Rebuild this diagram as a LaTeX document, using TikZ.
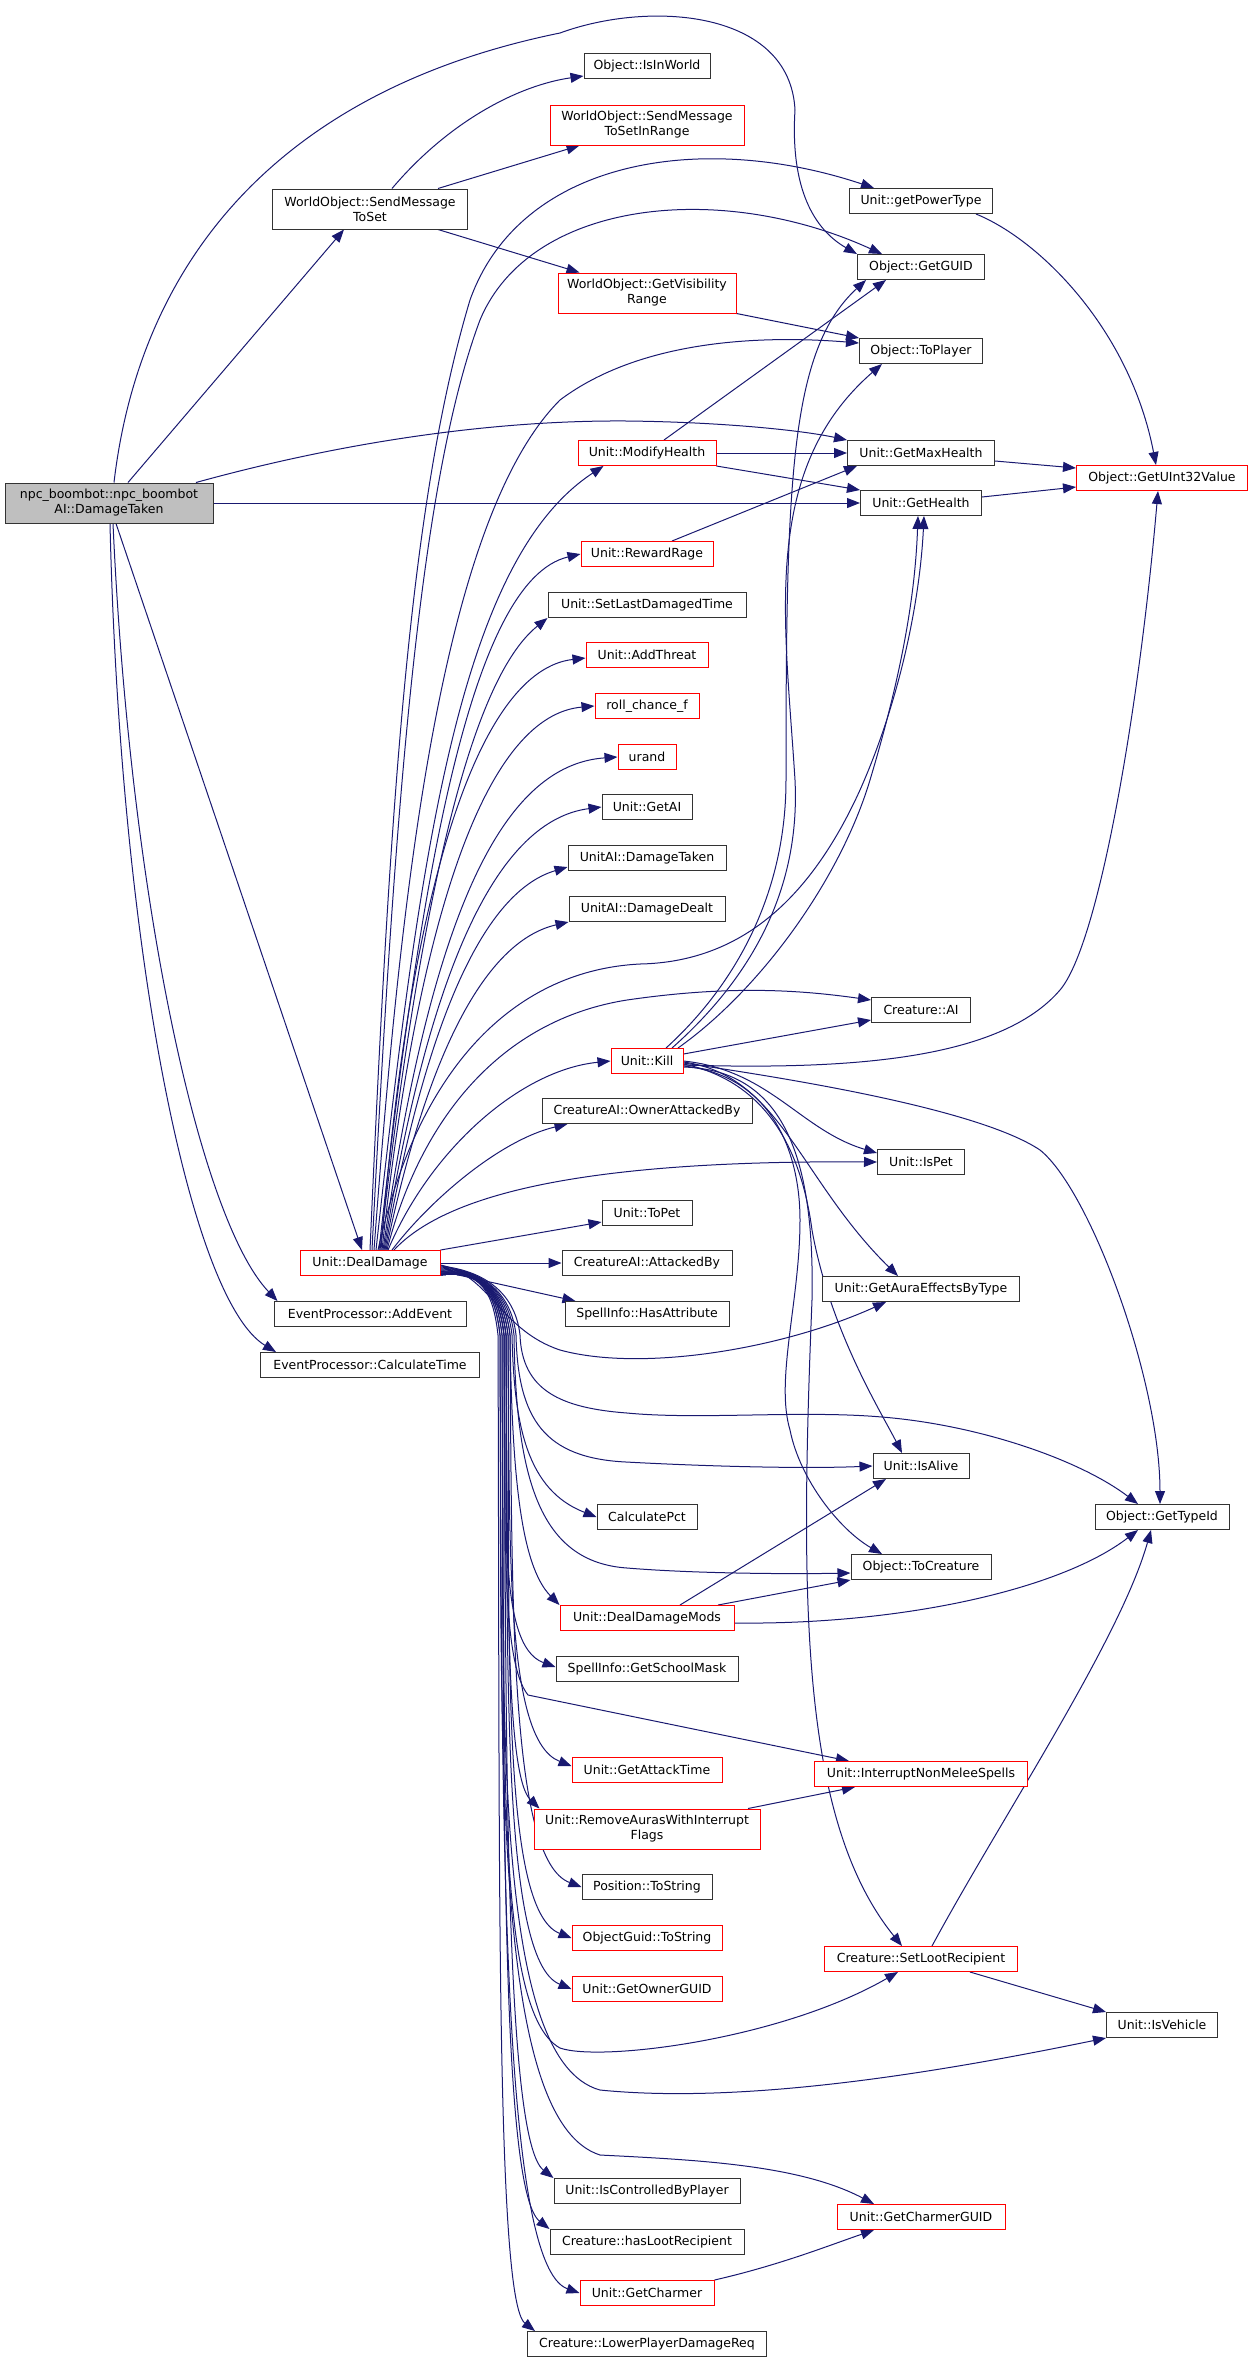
\documentclass[tikz,border=0pt]{standalone}
\usepackage{fontspec}
\setmainfont{DejaVu Sans}
\usetikzlibrary{arrows.meta}
\definecolor{edgec}{RGB}{25,25,112}
\definecolor{redb}{RGB}{255,0,0}
\definecolor{rootfill}{RGB}{191,191,191}
\pgfdeclarelayer{bg}
\pgfsetlayers{bg,main}
\begin{document}
\begin{tikzpicture}[x=1pt,y=-1pt,
  box/.style={draw=black!80, line width=1pt, fill=white, inner sep=0pt, minimum height=25pt,
    font=\fontsize{12.5}{15}\selectfont, align=center, text=black},
  rbox/.style={box, draw=redb},
  e/.style={draw=edgec, line width=1pt, -{Triangle[length=13pt,width=10pt]}}]
\useasboundingbox (0,0) rectangle (1252,2362);
% nodes
\node[box, fill=rootfill, minimum width=208pt, minimum height=40pt] (n0) at (109,503) {npc\_boombot::npc\_boombot\\AI::DamageTaken};
\node[box, minimum width=195pt, minimum height=40pt] (smts) at (370,209) {WorldObject::SendMessage\\ToSet};
\node[box, minimum width=126pt] (iiw) at (647,66) {Object::IsInWorld};
\node[rbox, minimum width=194pt, minimum height=40pt] (smir) at (647,125) {WorldObject::SendMessage\\ToSetInRange};
\node[rbox, minimum width=178pt, minimum height=40pt] (gvr) at (647,293) {WorldObject::GetVisibility\\Range};
\node[box, minimum width=143pt] (gpt) at (921,201) {Unit::getPowerType};
\node[box, minimum width=127pt] (guid) at (921,267) {Object::GetGUID};
\node[box, minimum width=123pt] (tpl) at (921,351) {Object::ToPlayer};
\node[rbox, minimum width=138pt] (mh) at (647,453) {Unit::ModifyHealth};
\node[box, minimum width=147pt] (gmh) at (921,453) {Unit::GetMaxHealth};
\node[box, minimum width=121pt] (gh) at (921,503) {Unit::GetHealth};
\node[rbox, minimum width=171pt] (u32) at (1162,478) {Object::GetUInt32Value};
\node[rbox, minimum width=132pt] (rr) at (647,554) {Unit::RewardRage};
\node[box, minimum width=198pt] (sldt) at (647,605) {Unit::SetLastDamagedTime};
\node[rbox, minimum width=122pt] (at) at (647,655) {Unit::AddThreat};
\node[rbox, minimum width=104pt] (rcf) at (647,706) {roll\_chance\_f};
\node[rbox, minimum width=58pt] (ur) at (647,757) {urand};
\node[box, minimum width=90pt] (gai) at (647,807) {Unit::GetAI};
\node[box, minimum width=158pt] (uadt) at (647,858) {UnitAI::DamageTaken};
\node[box, minimum width=156pt] (uadd) at (647,909) {UnitAI::DamageDealt};
\node[box, minimum width=99pt] (cai) at (921,1010) {Creature::AI};
\node[rbox, minimum width=72pt] (kill) at (647,1061) {Unit::Kill};
\node[box, minimum width=210pt] (oab) at (647,1111) {CreatureAI::OwnerAttackedBy};
\node[box, minimum width=87pt] (ispet) at (921,1162) {Unit::IsPet};
\node[box, minimum width=90pt] (topet) at (647,1213) {Unit::ToPet};
\node[rbox, minimum width=140pt] (dd) at (370,1263) {Unit::DealDamage};
\node[box, minimum width=170pt] (cab) at (647,1263) {CreatureAI::AttackedBy};
\node[box, minimum width=164pt] (ha) at (647,1314) {SpellInfo::HasAttribute};
\node[box, minimum width=192pt] (ae) at (370,1314) {EventProcessor::AddEvent};
\node[box, minimum width=219pt] (ct) at (370,1365) {EventProcessor::CalculateTime};
\node[box, minimum width=197pt] (gaebt) at (921,1289) {Unit::GetAuraEffectsByType};
\node[box, minimum width=96pt] (alive) at (921,1466) {Unit::IsAlive};
\node[box, minimum width=100pt] (cpct) at (647,1517) {CalculatePct};
\node[box, minimum width=134pt] (tid) at (1162,1517) {Object::GetTypeId};
\node[box, minimum width=140pt] (tcr) at (921,1567) {Object::ToCreature};
\node[rbox, minimum width=174pt] (ddm) at (647,1618) {Unit::DealDamageMods};
\node[box, minimum width=182pt] (gsm) at (647,1669) {SpellInfo::GetSchoolMask};
\node[rbox, minimum width=150pt] (gat) at (647,1770) {Unit::GetAttackTime};
\node[rbox, minimum width=213pt] (inms) at (921,1774) {Unit::InterruptNonMeleeSpells};
\node[rbox, minimum width=226pt, minimum height=40pt] (rawif) at (647,1829) {Unit::RemoveAurasWithInterrupt\\Flags};
\node[box, minimum width=130pt] (pts) at (647,1887) {Position::ToString};
\node[rbox, minimum width=150pt] (ogts) at (647,1938) {ObjectGuid::ToString};
\node[rbox, minimum width=150pt] (gog) at (647,1989) {Unit::GetOwnerGUID};
\node[rbox, minimum width=193pt] (slr) at (921,1959) {Creature::SetLootRecipient};
\node[box, minimum width=111pt] (veh) at (1162,2025) {Unit::IsVehicle};
\node[box, minimum width=186pt] (icbp) at (647,2191) {Unit::IsControlledByPlayer};
\node[box, minimum width=194pt] (hlr) at (647,2242) {Creature::hasLootRecipient};
\node[rbox, minimum width=134pt] (gch) at (647,2293) {Unit::GetCharmer};
\node[rbox, minimum width=168pt] (gcg) at (921,2217) {Unit::GetCharmerGUID};
\node[box, minimum width=239pt] (lpdr) at (647,2344) {Creature::LowerPlayerDamageReq};
\begin{pgfonlayer}{bg}
% root edges
\draw[e] ([xshift=19pt]n0.north) -- ([xshift=-26pt]smts.south);
\draw[e] ([xshift=5pt]n0.north) .. controls (140,260) and (280,90) .. (560,33) .. controls (650,0) and (790,10) .. (795,110) .. controls (790,190) and (815,230) .. (guid.north west);
\draw[e] ([xshift=87pt]n0.north) .. controls (350,440) and (500,420) .. (627,421) .. controls (720,422) and (800,430) .. (gmh.north west);
\draw[e] (n0.east) -- (gh.west);
\draw[e] ([xshift=7pt]n0.south) -- ([xshift=-8pt]dd.north);
\draw[e] ([xshift=4pt]n0.south) .. controls (130,900) and (200,1220) .. ([xshift=4pt]ae.north west);
\draw[e] ([xshift=1pt]n0.south) .. controls (120,950) and (190,1300) .. ([xshift=16pt]ct.north west);
% SendMessageToSet
\draw[e] ([xshift=22pt]smts.north) .. controls (450,120) and (520,85) .. ([yshift=-10pt]iiw.west);
\draw[e] ([xshift=68pt]smts.north) -- ([xshift=30pt]smir.south west);
\draw[e] ([xshift=68pt]smts.south) -- ([xshift=22pt]gvr.north west);
\draw[e] (gvr.south east) -- (tpl.north west);
% ModifyHealth etc
\draw[e] ([xshift=17pt]mh.north) -- ([xshift=-35pt]guid.south);
\draw[e] (mh.east) -- (gmh.west);
\draw[e] (mh.south east) -- (gh.north west);
\draw[e] ([xshift=25pt]rr.north) -- ([xshift=10pt]gmh.south west);
\draw[e] ([xshift=55pt]gpt.south) .. controls (1040,240) and (1130,330) .. ([xshift=-6pt]u32.north);
\draw[e] ([yshift=-8pt]gmh.east) -- ([yshift=10pt]u32.west);
\draw[e] ([yshift=6pt]gh.east) -- ([yshift=-9pt]u32.west);
% Kill
\draw[e] ([xshift=19pt]kill.north) .. controls (730,990) and (786,900) .. (786,780) .. controls (786,480) and (790,350) .. ([xshift=-55pt]guid.south);
\draw[e] ([xshift=25pt]kill.north) .. controls (760,970) and (800,880) .. (795,780) .. controls (785,620) and (760,470) .. ([xshift=-39pt]tpl.south);
\draw[e] ([xshift=31pt]kill.north) .. controls (760,990) and (840,880) .. (870,780) .. controls (900,680) and (915,600) .. ([xshift=-3pt]gh.south);
\draw[e] ([yshift=-4pt]kill.east) .. controls (850,1070) and (1000,1060) .. (1060,990) .. controls (1100,943) and (1140,700) .. ([xshift=-4pt]u32.south);
\draw[e] ([yshift=7pt]kill.east) -- ([yshift=-10pt]cai.west);
\draw[e] ([yshift=-2pt]kill.east) .. controls (800,1080) and (980,1110) .. (1040,1150) .. controls (1090,1190) and (1160,1380) .. ([xshift=-2pt]tid.north);
\draw[e] (kill.east) .. controls (770,1070) and (800,1130) .. ([yshift=9pt]ispet.west);
\draw[e] ([yshift=-1pt]kill.east) .. controls (780,1075) and (800,1180) .. ([xshift=-23pt]gaebt.north);
\draw[e] ([yshift=-3pt]kill.east) .. controls (760,1080) and (800,1140) .. (812,1230) .. controls (830,1330) and (880,1410) .. ([xshift=-19pt]alive.north);
\draw[e] ([yshift=-5pt]kill.east) .. controls (770,1075) and (800,1150) .. (800,1220) .. controls (800,1300) and (775,1380) .. (790,1430) .. controls (800,1480) and (840,1530) .. ([xshift=-39pt]tcr.north);
\draw[e] ([yshift=-6pt]kill.east) .. controls (780,1070) and (815,1150) .. (812,1300) .. controls (800,1600) and (800,1820) .. ([xshift=-19pt]slr.north);
% DealDamageMods, SetLootRecipient, misc
\draw[e] ([xshift=33pt]ddm.north) -- ([xshift=-35pt]alive.south);
\draw[e] ([xshift=71pt]ddm.north) -- (tcr.south west);
\draw[e] ([yshift=-5pt]ddm.east) .. controls (900,1625) and (1060,1590) .. ([xshift=-24pt]tid.south);
\draw[e] ([xshift=11pt]slr.north) .. controls (1000,1820) and (1120,1640) .. ([xshift=-11pt]tid.south);
\draw[e] ([xshift=49pt]slr.south) -- (veh.north west);
\draw[e] ([xshift=101pt]rawif.north) -- ([xshift=41pt]inms.south west);
\draw[e] (gch.north east) .. controls (780,2265) and (830,2245) .. ([xshift=-47pt]gcg.south);
% DealDamage upward
\draw[e] (dd.north) .. controls (390,800) and (410,500) .. (470,300) .. controls (520,160) and (700,130) .. ([xshift=-47pt]gpt.north);
\draw[e] ([xshift=2pt]dd.north) .. controls (395,800) and (420,480) .. (480,320) .. controls (530,200) and (720,180) .. ([xshift=-39pt]guid.north);
\draw[e] ([xshift=4pt]dd.north) .. controls (400,900) and (440,520) .. (560,400) .. controls (640,340) and (760,335) .. ([yshift=8pt]tpl.west);
\draw[e] ([xshift=6pt]dd.north) .. controls (420,850) and (460,560) .. ([xshift=26pt]mh.south west);
\draw[e] ([xshift=8pt]dd.north) .. controls (420,1060) and (520,970) .. (640,964) .. controls (740,962) and (810,900) .. (860,790) .. controls (900,700) and (920,600) .. ([xshift=3pt]gh.south);
\draw[e] ([xshift=9pt]dd.north) .. controls (420,880) and (470,580) .. (rr.west);
\draw[e] ([xshift=10pt]dd.north) .. controls (420,900) and (470,680) .. (sldt.south west);
\draw[e] ([xshift=11pt]dd.north) .. controls (410,880) and (480,670) .. ([yshift=-3pt]at.west);
\draw[e] ([xshift=12pt]dd.north) .. controls (420,900) and (490,715) .. (rcf.west);
\draw[e] ([xshift=13pt]dd.north) .. controls (430,920) and (500,765) .. (ur.west);
\draw[e] ([xshift=14pt]dd.north) .. controls (430,960) and (500,820) .. (gai.west);
\draw[e] ([xshift=15pt]dd.north) .. controls (430,1000) and (490,890) .. ([yshift=-9pt]uadt.west);
\draw[e] ([xshift=16pt]dd.north) .. controls (430,1040) and (490,940) .. (uadd.south west);
\draw[e] ([xshift=17pt]dd.north) .. controls (420,1120) and (500,1020) .. (627,1000) .. controls (730,985) and (800,990) .. ([yshift=10pt]cai.west);
\draw[e] ([xshift=18pt]dd.north) .. controls (430,1150) and (520,1070) .. (kill.west);
\draw[e] ([xshift=22pt]dd.north) .. controls (430,1200) and (500,1140) .. ([xshift=26pt]oab.south west);
\draw[e] ([xshift=24pt]dd.north) .. controls (450,1190) and (600,1160) .. (ispet.west);
\draw[e] (dd.north east) -- ([yshift=-9pt]topet.west);
\draw[e] (dd.east) -- (cab.west);
% DealDamage downward
\draw[e] ([yshift=-8pt]dd.east) -- ([xshift=11pt]ha.north west);
\draw[e] ([yshift=-2pt]dd.east) .. controls (490,1275) and (500,1330) .. (560,1350) .. controls (640,1372) and (780,1350) .. ([xshift=-35pt]gaebt.south);
\draw[e] ([yshift=-3pt]dd.east) .. controls (480,1270) and (515,1290) .. (520,1335) .. controls (522,1390) and (560,1408) .. (627,1413) .. controls (700,1420) and (800,1410) .. (882,1417) .. controls (980,1425) and (1080,1460) .. ([xshift=-24pt]tid.north);
\draw[e] ([yshift=-4pt]dd.east) .. controls (480,1270) and (511,1290) .. (516,1335) .. controls (518,1420) and (545,1458) .. (626,1462) .. controls (700,1466) and (800,1469) .. (alive.west);
\draw[e] ([yshift=-5pt]dd.east) .. controls (480,1270) and (507,1290) .. (512,1335) .. controls (514,1426) and (527,1490) .. (cpct.west);
\draw[e] ([yshift=-6pt]dd.east) .. controls (480,1270) and (509,1290) .. (514,1335) .. controls (516,1480) and (540,1562) .. (627,1568) .. controls (700,1574) and (800,1574) .. ([yshift=-6pt]tcr.west);
\draw[e] ([yshift=-7pt]dd.east) .. controls (480,1270) and (505,1290) .. (510,1335) .. controls (512,1470) and (520,1565) .. (ddm.north west);
\draw[e] ([yshift=-8pt]dd.east) .. controls (480,1270) and (501,1290) .. (506,1335) .. controls (508,1500) and (495,1645) .. ([yshift=2pt]gsm.west);
\draw[e] ([yshift=-9pt]dd.east) .. controls (480,1270) and (499,1290) .. (504,1335) .. controls (506,1520) and (500,1660) .. (528,1695) -- ([xshift=35pt]inms.north west);
\draw[e] ([yshift=-9pt]dd.east) .. controls (480,1270) and (503,1290) .. (508,1335) .. controls (510,1550) and (505,1740) .. ([yshift=4pt]gat.west);
\draw[e] ([yshift=-10pt]dd.east) .. controls (480,1270) and (501,1290) .. (506,1335) .. controls (508,1570) and (505,1775) .. ([xshift=6pt]rawif.north west);
\draw[e] ([yshift=-10pt]dd.east) .. controls (480,1270) and (505,1290) .. (510,1335) .. controls (512,1610) and (510,1860) .. (pts.west);
\draw[e] ([yshift=-11pt]dd.east) .. controls (480,1270) and (503,1290) .. (508,1335) .. controls (510,1640) and (500,1910) .. (ogts.west);
\draw[e] ([yshift=-11pt]dd.east) .. controls (480,1270) and (501,1290) .. (506,1335) .. controls (508,1660) and (500,1960) .. (gog.west);
\draw[e] ([yshift=-11pt]dd.east) .. controls (480,1270) and (499,1290) .. (504,1335) .. controls (506,1700) and (490,2010) .. (560,2048) .. controls (600,2062) and (780,2040) .. ([xshift=-23pt]slr.south);
\draw[e] ([yshift=-12pt]dd.east) .. controls (480,1270) and (497,1290) .. (502,1335) .. controls (504,1700) and (490,2060) .. (600,2090) .. controls (750,2105) and (950,2070) .. (veh.south west);
\draw[e] ([yshift=-12pt]dd.east) .. controls (480,1270) and (495,1290) .. (500,1335) .. controls (502,1740) and (490,2120) .. (600,2155) .. controls (700,2160) and (800,2165) .. ([xshift=-47pt]gcg.north);
\draw[e] ([yshift=-12pt]dd.east) .. controls (480,1270) and (499,1290) .. (504,1335) .. controls (506,1760) and (505,2140) .. (icbp.north west);
\draw[e] ([yshift=-12pt]dd.east) .. controls (480,1270) and (497,1290) .. (502,1335) .. controls (504,1780) and (500,2190) .. (hlr.north west);
\draw[e] ([yshift=-12pt]dd.east) .. controls (480,1270) and (495,1290) .. (500,1335) .. controls (502,1810) and (500,2265) .. (gch.west);
\draw[e] ([yshift=-12pt]dd.east) .. controls (480,1270) and (493,1290) .. (498,1335) .. controls (500,1840) and (495,2300) .. ([xshift=8pt]lpdr.north west);
\end{pgfonlayer}
\end{tikzpicture}
\end{document}
